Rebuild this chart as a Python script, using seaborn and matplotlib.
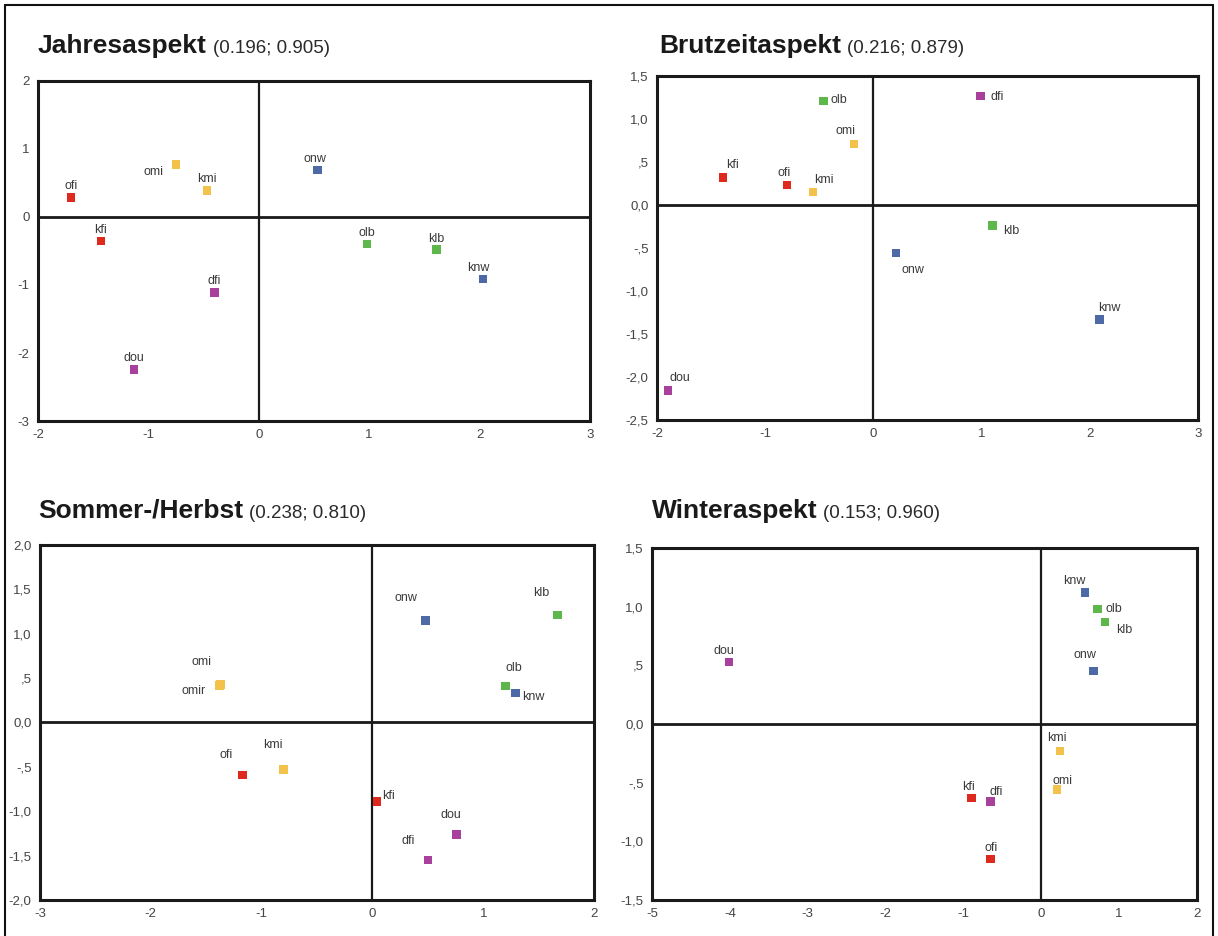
import numpy as np
import pandas as pd
import matplotlib
matplotlib.use("Agg")
import matplotlib.pyplot as plt
from matplotlib.ticker import FuncFormatter, MultipleLocator
from matplotlib.lines import Line2D
import seaborn as sns

# ---------------- data ----------------
# Jahresaspekt
jahr_sites = ["ofi", "omi", "kmi", "kfi", "dfi", "dou", "onw", "olb", "klb", "knw"]
jahr_x = [-1.70, -0.75, -0.47, -1.43, -0.40, -1.13, 0.53, 0.98, 1.61, 2.03]
jahr_y = [0.29, 0.77, 0.39, -0.35, -1.11, -2.24, 0.69, -0.40, -0.48, -0.91]

# Brutzeitaspekt
brut_sites = ["olb", "dfi", "omi", "kfi", "ofi", "kmi", "klb", "onw", "knw", "dou"]
brut_x = [-0.46, 0.99, -0.18, -1.39, -0.80, -0.56, 1.10, 0.21, 2.09, -1.90]
brut_y = [1.21, 1.27, 0.71, 0.32, 0.23, 0.15, -0.24, -0.56, -1.33, -2.16]

# Sommer-/Herbst
somm_sites = ["onw", "klb", "omi", "omir", "olb", "knw", "ofi", "kmi", "kfi", "dou", "dfi"]
somm_x = [0.48, 1.67, -1.37, -1.38, 1.20, 1.29, -1.17, -0.80, 0.04, 0.76, 0.50]
somm_y = [1.15, 1.21, 0.43, 0.42, 0.41, 0.33, -0.59, -0.53, -0.89, -1.26, -1.55]

# Winteraspekt
wint_sites = ["knw", "olb", "klb", "onw", "dou", "kmi", "omi", "kfi", "dfi", "ofi"]
wint_x = [0.56, 0.72, 0.82, 0.67, -4.01, 0.24, 0.20, -0.90, -0.65, -0.65]
wint_y = [1.12, 0.98, 0.87, 0.45, 0.53, -0.23, -0.56, -0.63, -0.66, -1.15]

titles = ["Jahresaspekt", "Brutzeitaspekt", "Sommer-/Herbst", "Winteraspekt"]
subtitles = ["(0.196; 0.905)", "(0.216; 0.879)", "(0.238; 0.810)", "(0.153; 0.960)"]

# ---------------- styles ----------------
site_colors = {
    "ofi": "#de2a1e", "kfi": "#de2a1e",
    "omi": "#f2c24a", "kmi": "#f2c24a", "omir": "#f2c24a",
    "dfi": "#a8409c", "dou": "#a8409c",
    "onw": "#4e6aa6", "knw": "#4e6aa6",
    "olb": "#5db74a", "klb": "#5db74a",
}

# label offsets (points) and alignment per panel
offs = [
    {"ofi": (0, 8, "center"), "omi": (-9, -5, "right"), "kmi": (0, 8, "center"),
     "kfi": (0, 8, "center"), "dfi": (0, 8, "center"), "dou": (0, 8, "center"),
     "onw": (-2, 8, "center"), "olb": (0, 8, "center"), "klb": (0, 8, "center"),
     "knw": (-3, 8, "center")},
    {"olb": (5, 1, "left"), "dfi": (7, -1, "left"), "omi": (-6, 9, "center"),
     "kfi": (2, 9, "left"), "ofi": (-2, 9, "center"), "kmi": (1, 9, "left"),
     "klb": (8, -4, "left"), "onw": (4, -12, "left"), "knw": (-1, 8, "left"),
     "dou": (1, 9, "left")},
    {"onw": (-14, 16, "center"), "klb": (-12, 16, "center"), "omi": (-14, 16, "center"),
     "omir": (-10, -4, "right"), "olb": (6, 13, "center"), "knw": (5, -3, "left"),
     "ofi": (-12, 14, "center"), "kmi": (-8, 18, "center"), "kfi": (4, 4, "left"),
     "dou": (-4, 14, "center"), "dfi": (-14, 14, "center")},
    {"knw": (-8, 8, "center"), "olb": (6, 0, "left"), "klb": (8, -6, "left"),
     "onw": (-6, 12, "center"), "dou": (-4, 8, "center"), "kmi": (-2, 9, "center"),
     "omi": (4, 6, "center"), "kfi": (-2, 8, "center"), "dfi": (4, 7, "center"),
     "ofi": (0, 8, "center")},
]

xlims = [(-2, 3), (-2, 3), (-3, 2), (-5, 2)]
ylims = [(-3, 2), (-2.5, 1.5), (-2, 2), (-1.5, 1.5)]
ysteps = [1, 0.5, 0.5, 0.5]
german = [False, True, True, True]

# axes rectangles in figure fractions
rects = [
    (0.0312, 0.5502, 0.4532, 0.3633),
    (0.5394, 0.5513, 0.4442, 0.3675),
    (0.0328, 0.0385, 0.4549, 0.3792),
    (0.5353, 0.0385, 0.4475, 0.3760),
]
title_pos = [(0.031, 0.9434), (0.541, 0.9434), (0.031, 0.4466), (0.535, 0.4466)]

sns.set_style("white")
plt.rcParams["font.family"] = ["Liberation Sans", "DejaVu Sans"]

fig = plt.figure(figsize=(12.18, 9.36), dpi=100)

# outer border
for xs, ys in [((0.004, 0.004), (0.0, 0.995)), ((0.004, 0.996), (0.995, 0.995)),
               ((0.996, 0.996), (0.0, 0.995))]:
    fig.add_artist(Line2D(xs, ys, color="#111111", lw=1.5, transform=fig.transFigure))


def de_fmt(v, pos):
    if abs(v) < 1e-9:
        return "0,0"
    s = f"{abs(v):.1f}".replace(".", ",")
    if s.startswith("0"):
        s = s[1:]
    return ("-" if v < 0 else "") + s


panels = [
    (jahr_sites, jahr_x, jahr_y),
    (brut_sites, brut_x, brut_y),
    (somm_sites, somm_x, somm_y),
    (wint_sites, wint_x, wint_y),
]

for i, (sites, xs, ys) in enumerate(panels):
    ax = fig.add_axes(rects[i])
    df = pd.DataFrame({"site": sites, "x": xs, "y": ys})
    ax.axhline(0, color="#1a1a1a", lw=2.0, zorder=1)
    ax.axvline(0, color="#1a1a1a", lw=1.6, zorder=1)
    sns.scatterplot(data=df, x="x", y="y", hue="site", palette=site_colors,
                    marker="s", s=38, edgecolor="none", legend=False, ax=ax, zorder=3)
    for s_, x_, y_ in zip(sites, xs, ys):
        dx, dy, ha = offs[i][s_]
        ax.annotate(s_, (x_, y_), xytext=(dx, dy), textcoords="offset points",
                    ha=ha, va="center", fontsize=9, color="#3a3a3a", zorder=4)
    ax.set_xlim(*xlims[i])
    ax.set_ylim(*ylims[i])
    ax.xaxis.set_major_locator(MultipleLocator(1))
    ax.yaxis.set_major_locator(MultipleLocator(ysteps[i]))
    ax.xaxis.set_major_formatter(FuncFormatter(lambda v, p: f"{int(round(v))}"))
    if german[i]:
        ax.yaxis.set_major_formatter(FuncFormatter(de_fmt))
    else:
        ax.yaxis.set_major_formatter(FuncFormatter(lambda v, p: f"{int(round(v))}"))
    ax.set_xlabel("")
    ax.set_ylabel("")
    for sp in ax.spines.values():
        sp.set_visible(True)
        sp.set_color("#1a1a1a")
        sp.set_linewidth(2.2)
    ax.tick_params(axis="both", direction="out", length=4, width=1.3,
                   color="#333333", labelsize=9.5, labelcolor="#444444", pad=2)
    ax.set_facecolor("white")

    tx, ty = title_pos[i]
    t = fig.text(tx, ty, titles[i], fontsize=19, fontweight="bold", color="#1a1a1a",
                 ha="left", va="baseline")
    fig.canvas.draw()
    bb = t.get_window_extent()
    x_end = bb.x1 / fig.bbox.width
    fig.text(x_end + 0.005, ty, subtitles[i], fontsize=13.5, color="#2a2a2a",
             ha="left", va="baseline")

fig.savefig("out.png", dpi=100, facecolor="white")
